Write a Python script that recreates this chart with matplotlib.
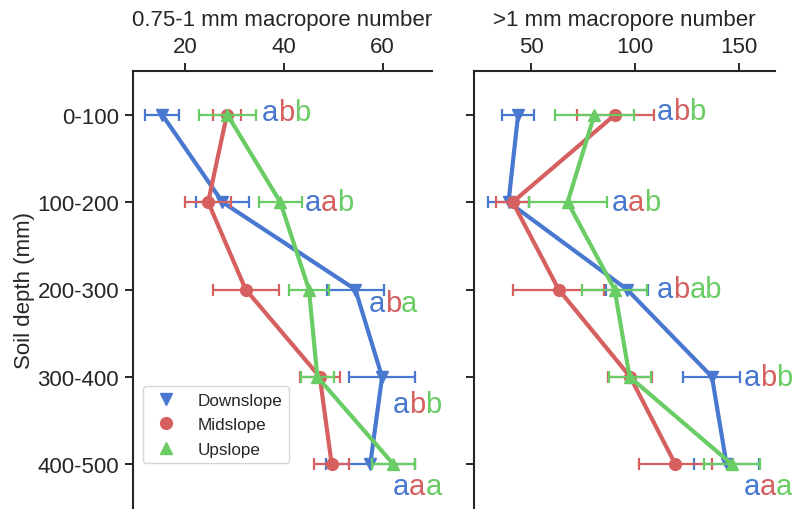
import matplotlib.pyplot as plt
from matplotlib.lines import Line2D

plt.rcParams['font.family'] = ['Liberation Sans', 'DejaVu Sans']
plt.rcParams['text.color'] = '#262626'
plt.rcParams['axes.labelcolor'] = '#262626'
plt.rcParams['xtick.color'] = '#262626'
plt.rcParams['ytick.color'] = '#262626'

# data
depths = ["0-100", "100-200", "200-300", "300-400", "400-500"]
slopes = ["Downslope", "Midslope", "Upslope"]

# 0.75-1 mm macropore number
small_down = [15.4, 27.6, 54.5, 59.9, 57.5]
small_down_err = [3.4, 5.3, 5.7, 6.6, 9.0]
small_mid = [28.5, 24.7, 32.3, 47.3, 49.7]
small_mid_err = [2.9, 4.6, 6.7, 4.0, 3.5]
small_up = [28.6, 39.3, 45.1, 46.8, 62.2]
small_up_err = [5.7, 4.3, 4.0, 3.3, 4.4]

# >1 mm macropore number
large_down = [43.8, 39.2, 96.2, 137.0, 144.0]
large_down_err = [7.8, 10.0, 10.2, 13.7, 15.8]
large_mid = [90.4, 41.2, 63.3, 97.7, 119.4]
large_mid_err = [18.5, 8.0, 21.8, 10.7, 17.6]
large_up = [80.5, 67.6, 90.2, 97.4, 146.6]
large_up_err = [19.2, 18.7, 15.5, 10.1, 13.4]

# significance letters (Downslope, Midslope, Upslope)
small_letters = [("a", "b", "b"), ("a", "a", "b"), ("a", "b", "a"), ("a", "b", "b"), ("a", "a", "a")]
large_letters = [("a", "b", "b"), ("a", "a", "b"), ("a", "b", "ab"), ("a", "b", "b"), ("a", "a", "a")]

# where the letters go (x value, y baseline)
small_letter_pos = [(35.6, 0.06), (44.2, 1.09), (57.2, 2.25), (62.1, 3.40), (62.1, 4.34)]
large_letter_pos = [(110.6, 0.05), (88.9, 1.09), (110.6, 2.09), (152.2, 3.09), (152.2, 4.34)]

colors = ["#4878d0", "#d65f5f", "#6acc64"]
markers = ["v", "o", "^"]
msizes = [9, 8.5, 9]
ypos = list(range(len(depths)))

FS = 16


def draw_panel(ax, means, errs, letters, letter_pos):
    for m, e, c, mk, ms, name in zip(means, errs, colors, markers, msizes, slopes):
        ax.errorbar(m, ypos, xerr=e, fmt='none', ecolor=c, elinewidth=1.6,
                    capsize=4, capthick=1.6)
        ax.plot(m, ypos, color=c, lw=3, marker=mk, ms=ms, label=name)
    for lets, (x, y) in zip(letters, letter_pos):
        prev = ax.annotate(lets[0], xy=(x, y), color=colors[0], fontsize=21,
                           va='baseline', ha='left', annotation_clip=False)
        for ch, c in zip(lets[1:], colors[1:]):
            prev = ax.annotate(ch, xycoords=prev, xy=(1, 0), color=c, fontsize=21,
                               va='bottom', ha='left', annotation_clip=False)
    ax.xaxis.tick_top()
    ax.xaxis.set_label_position('top')
    ax.spines['right'].set_visible(False)
    ax.spines['bottom'].set_visible(False)
    for s in ['top', 'left']:
        ax.spines[s].set_linewidth(1.5)
        ax.spines[s].set_color('#262626')
    ax.tick_params(axis='both', length=6, width=1.4, labelsize=FS, pad=4)


fig = plt.figure(figsize=(7.92, 5.10), dpi=100)
ax1 = fig.add_axes([133 / 792, 1 / 510, 299 / 792, 437 / 510])
ax2 = fig.add_axes([474 / 792, 1 / 510, 301 / 792, 437 / 510], sharey=ax1)

draw_panel(ax1, [small_down, small_mid, small_up],
           [small_down_err, small_mid_err, small_up_err], small_letters, small_letter_pos)
draw_panel(ax2, [large_down, large_mid, large_up],
           [large_down_err, large_mid_err, large_up_err], large_letters, large_letter_pos)

ax1.set_xlim(9.5, 70)
ax1.set_xticks([20, 40, 60])
ax2.set_xlim(22.6, 167.3)
ax2.set_xticks([50, 100, 150])

ax1.set_yticks(ypos)
ax1.set_yticklabels(depths)
ax1.set_ylim(4.5, -0.5)
ax2.tick_params(axis='y', labelleft=False)

ax1.set_xlabel("0.75-1 mm macropore number", fontsize=FS, labelpad=8)
ax2.set_xlabel(">1 mm macropore number", fontsize=FS, labelpad=8)
ax1.set_ylabel("Soil depth (mm)", fontsize=FS, labelpad=2)

handles = [Line2D([], [], ls='none', marker=mk, color=c, ms=ms)
           for c, mk, ms in zip(colors, markers, msizes)]
leg = ax1.legend(handles, slopes, loc='lower left', bbox_to_anchor=(0.032, 0.102),
                 borderaxespad=0, fontsize=12.3, handletextpad=0.8, labelspacing=0.55,
                 frameon=True, fancybox=True, edgecolor='#cccccc')

fig.savefig("out.png", dpi=100)
